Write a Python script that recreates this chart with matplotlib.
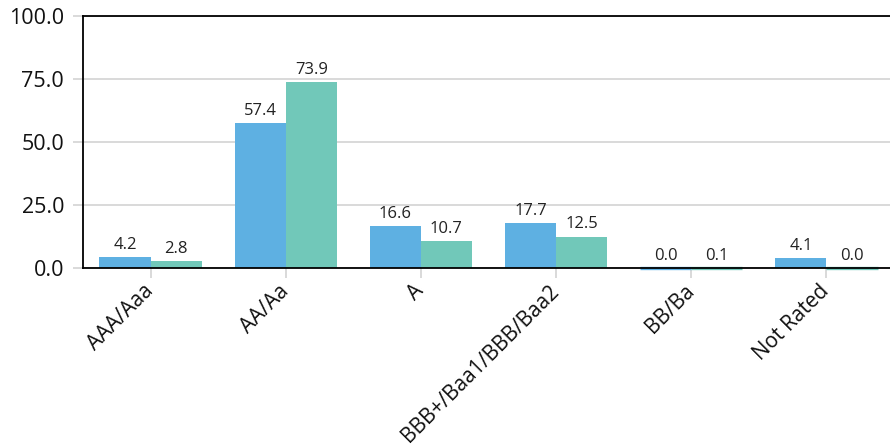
import matplotlib.pyplot as plt
import numpy as np

# Chart data
categories = ['AAA/Aaa', 'AA/Aa', 'A', 'BBB+/Baa1/BBB/Baa2', 'BB/Ba', 'Not Rated']
series_a = [4.2, 57.4, 16.6, 17.7, 0.0, 4.1]
series_b = [2.8, 73.9, 10.7, 12.5, 0.1, 0.0]
y_ticks = [0, 25, 50, 75, 100]

blue = '#5eb0e2'
teal = '#71c8b9'

plt.rcParams['font.family'] = ['Open Sans', 'DejaVu Sans']

fig = plt.figure(figsize=(8.9, 4.48), dpi=100)
ax = fig.add_axes([83 / 890, 180 / 448, 811 / 890, 252 / 448])

x = np.arange(len(categories))
w = 0.378
# near-zero bars still show as a thin strip under the axis line
bars_a = ax.bar(x - w / 2, series_a, width=w, color=blue, edgecolor=blue,
                linewidth=[2.4 if v < 0.5 else 0 for v in series_a],
                clip_on=False, zorder=2)
bars_b = ax.bar(x + w / 2, series_b, width=w, color=teal, edgecolor=teal,
                linewidth=[2.4 if v < 0.5 else 0 for v in series_b],
                clip_on=False, zorder=2)

ax.bar_label(bars_a, labels=[f'{v:.1f}' for v in series_a], padding=3,
             fontsize=12, color='#222222')
ax.bar_label(bars_b, labels=[f'{v:.1f}' for v in series_b], padding=3,
             fontsize=12, color='#222222')

ax.set_xlim(-0.5, len(categories) - 0.5)
ax.set_ylim(0, 100)
ax.set_yticks(y_ticks)
ax.set_yticklabels([f'{v:.1f}' for v in y_ticks], fontsize=15.5, color='#111111')
ax.set_xticks(x)
ax.set_xticklabels(categories, fontsize=15, rotation=45, ha='right',
                   va='center', rotation_mode='anchor', color='#111111')

ax.grid(axis='y', color='#d9d9d9', linewidth=1.4, zorder=0)
ax.tick_params(axis='both', length=7.5, width=1.4, color='#d9d9d9', pad=6)
ax.tick_params(axis='x', pad=7)

for side in ['left', 'top', 'bottom']:
    ax.spines[side].set_color('black')
    ax.spines[side].set_linewidth(1.3)
    ax.spines[side].set_zorder(3)
ax.spines['right'].set_visible(False)

plt.savefig('out.png', dpi=100)
